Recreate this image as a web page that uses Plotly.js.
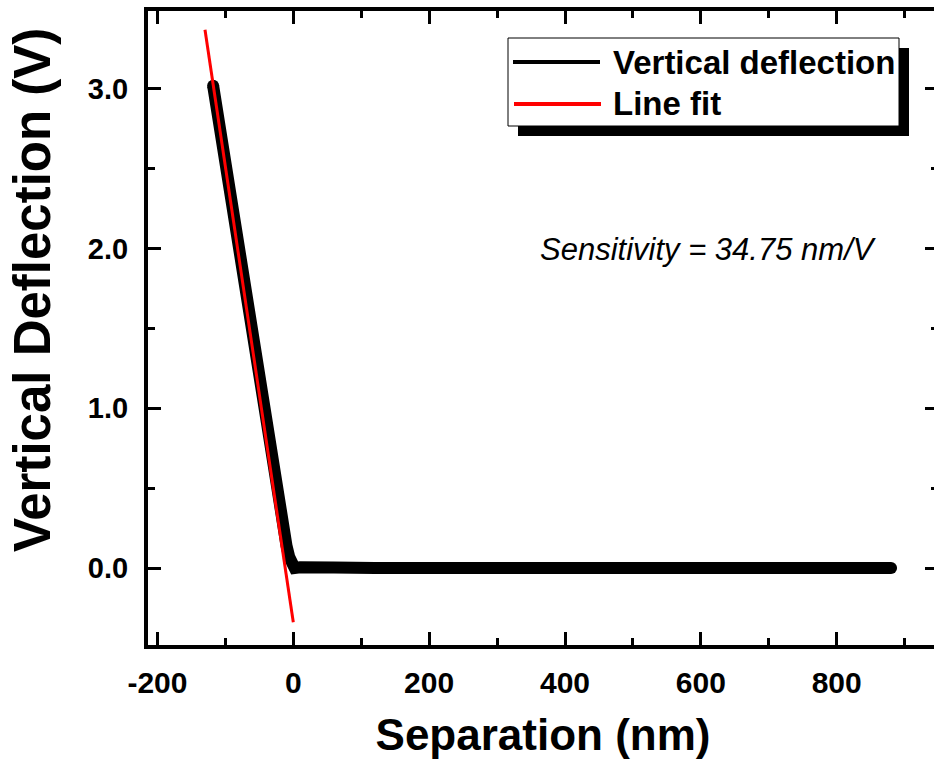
<!DOCTYPE html>
<html>
<head>
<meta charset="utf-8">
<script src="https://cdn.plot.ly/plotly-3.0.1.min.js"></script>
<style>html,body{margin:0;padding:0;overflow:hidden;background:#fff;}#chart{width:938px;height:764px;}</style>
</head>
<body>
<div id="chart"></div>
<script>
// ---- data ----
const sepX = [-118, -110, -100, -90, -80, -70, -60, -50, -40, -30, -22, -15, -10, -6, -3, -1, 2, 10, 25, 60, 120, 200, 300, 400, 460, 500, 600, 660, 700, 800, 880];
const deflY = [3.02, 2.80, 2.53, 2.25, 1.97, 1.68, 1.40, 1.12, 0.85, 0.57, 0.40, 0.24, 0.14, 0.07, 0.03, 0.01, 0.0, 0.005, 0.0, 0.003, 0.0, 0.0, 0.002, 0.0, 0.006, 0.0, 0.002, 0.006, 0.0, 0.003, 0.0];
const fitX = [-130, 0];
const fitY = [3.37, -0.34];
const seriesNames = ['Vertical deflection', 'Line fit'];
const xTickVals = [-200, 0, 200, 400, 600, 800];
const xTickText = ['-200', '0', '200', '400', '600', '800'];
const yTickVals = [0, 1, 2, 3];
const yTickText = ['0.0', '1.0', '2.0', '3.0'];
const xTitle = 'Separation (nm)';
const yTitle = 'Vertical Deflection (V)';
const noteText = 'Sensitivity = 34.75 nm/V';

// ---- layout helpers (pixel -> paper) ----
const W = 938, H = 764, ML = 148, MR = 0, MT = 11, MB = 119;
const PW = W - ML - MR, PH = H - MT - MB;
const px = v => (v - ML) / PW;
const py = v => (H - MB - v) / PH;
const FONT = '"Liberation Sans", Arial, sans-serif';

const endSizes = sepX.map((_, i) => (i === 0 || i === sepX.length - 1) ? 12 : 0);

const traces = [
  {x: sepX, y: deflY, name: seriesNames[0], mode: 'lines+markers', type: 'scatter',
   line: {color: '#000', width: 12},
   marker: {color: '#000', opacity: 1, size: endSizes, line: {width: 0}}, showlegend: false},
  {x: fitX, y: fitY, name: seriesNames[1], mode: 'lines', type: 'scatter',
   line: {color: '#ff0000', width: 3}, showlegend: false}
];

const axisCommon = {
  showgrid: false, zeroline: false, showline: true, linecolor: '#000', linewidth: 4,
  mirror: 'allticks', ticks: 'inside', ticklen: 13, tickwidth: 3, tickcolor: '#000',
  tickmode: 'array', automargin: false
};

const layout = {
  width: W, height: H,
  margin: {l: ML, r: MR, t: MT, b: MB, pad: 0},
  paper_bgcolor: '#fff', plot_bgcolor: '#fff',
  xaxis: Object.assign({}, axisCommon, {
    range: [-213.9, 949.1], tickvals: xTickVals, ticktext: xTickText,
    tickfont: {family: FONT, size: 30, color: '#000', weight: 'bold'},
    ticklabelstandoff: 8,
    minor: {tickmode: 'linear', tick0: 0, dtick: 100, ticks: 'inside', ticklen: 7, tickwidth: 3, tickcolor: '#000', showgrid: false},
    title: {text: xTitle, font: {family: FONT, size: 44, color: '#000', weight: 'bold'}, standoff: 22}
  }),
  yaxis: Object.assign({}, axisCommon, {
    range: [-0.482, 3.488], tickvals: yTickVals, ticktext: yTickText,
    tickfont: {family: FONT, size: 29, color: '#000', weight: 'bold'},
    ticklabelstandoff: 10,
    minor: {tickmode: 'linear', tick0: 0, dtick: 0.5, ticks: 'inside', ticklen: 7, tickwidth: 3, tickcolor: '#000', showgrid: false},
    title: {text: ''}
  }),
  shapes: [
    {type: 'rect', xref: 'paper', yref: 'paper', x0: px(518), x1: px(909), y0: py(48), y1: py(136),
     fillcolor: '#000', line: {width: 0}, layer: 'above'},
    {type: 'rect', xref: 'paper', yref: 'paper', x0: px(508), x1: px(899), y0: py(38), y1: py(126),
     fillcolor: '#fff', line: {color: '#000', width: 1}, layer: 'above'},
    {type: 'line', xref: 'paper', yref: 'paper', x0: px(513), x1: px(600), y0: py(62), y1: py(62),
     line: {color: '#000', width: 4}, layer: 'above'},
    {type: 'line', xref: 'paper', yref: 'paper', x0: px(514), x1: px(601), y0: py(104), y1: py(104),
     line: {color: '#ff0000', width: 4}, layer: 'above'}
  ],
  annotations: [
    {xref: 'paper', yref: 'paper', x: px(611), y: py(62), xanchor: 'left', yanchor: 'middle', showarrow: false,
     text: seriesNames[0], font: {family: FONT, size: 33, color: '#000', weight: 'bold'}},
    {xref: 'paper', yref: 'paper', x: px(611), y: py(104), xanchor: 'left', yanchor: 'middle', showarrow: false,
     text: seriesNames[1], font: {family: FONT, size: 33, color: '#000', weight: 'bold'}},
    {xref: 'paper', yref: 'paper', x: px(708), y: py(249), xanchor: 'center', yanchor: 'middle', showarrow: false,
     text: noteText, font: {family: FONT, size: 31, color: '#000', style: 'italic'}},
    {xref: 'paper', yref: 'paper', x: px(32), y: py(290), xanchor: 'center', yanchor: 'middle', showarrow: false,
     textangle: -90, text: yTitle, font: {family: FONT, size: 51, color: '#000', weight: 'bold'}}
  ]
};

Plotly.newPlot('chart', traces, layout, {displayModeBar: false, staticPlot: true});
</script>
</body>
</html>
